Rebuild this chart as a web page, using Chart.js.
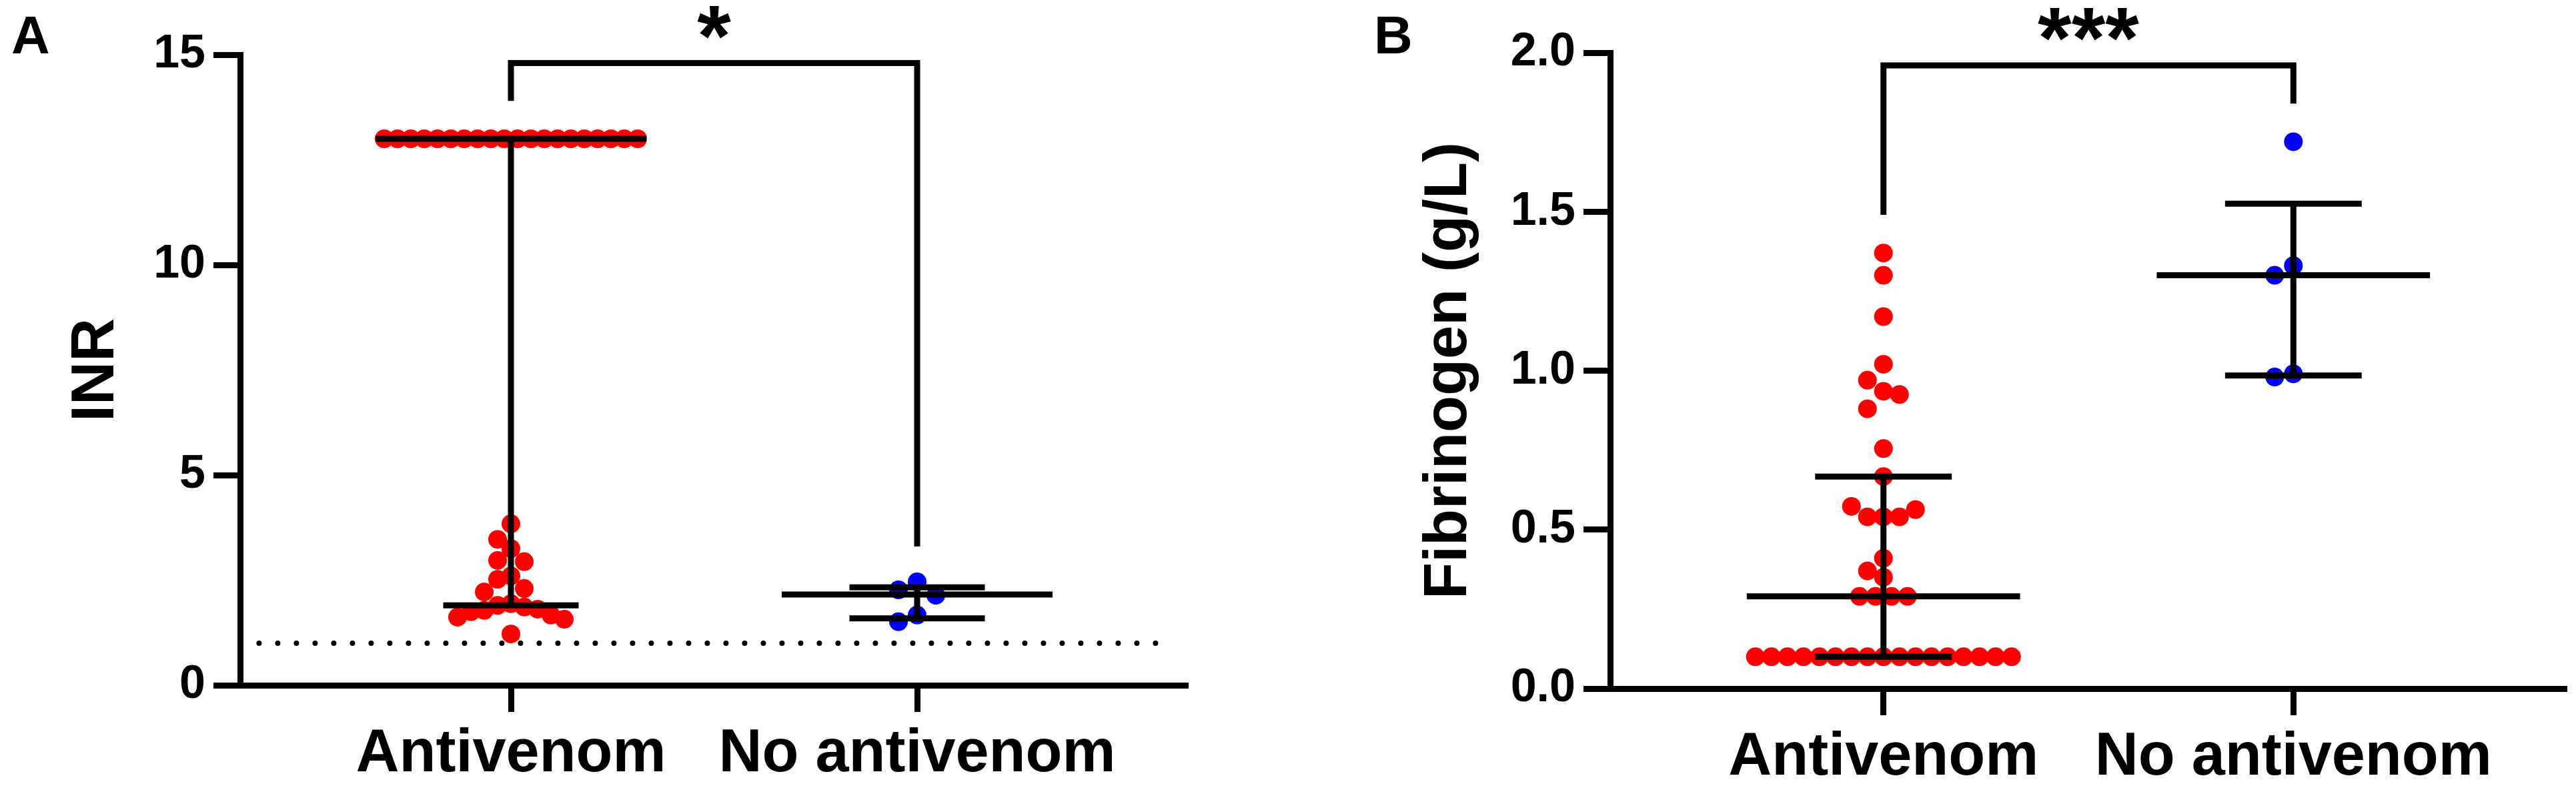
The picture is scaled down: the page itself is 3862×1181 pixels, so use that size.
<!DOCTYPE html>
<html lang="en">
<head>
  <meta charset="UTF-8">
  <title>INR and fibrinogen by antivenom</title>
  <script src="https://cdn.jsdelivr.net/npm/chart.js"></script>
  <style>
    html, body { margin: 0; padding: 0; background: #fff; }
    body { width: 3862px; height: 1181px; position: relative; overflow: hidden; }
    .panel { position: absolute; top: 0; width: 1931px; height: 1181px; }
    #panelA { left: 0; }
    #panelB { left: 1931px; }
  </style>
</head>
<body>
  <div class="panel" id="panelA"><canvas id="graficoINR"></canvas></div>
  <div class="panel" id="panelB"><canvas id="graficoFibrinogenio"></canvas></div>

<script>
  // categories
  const groups = ['Antivenom', 'No antivenom'];

  // panel A - INR
  const inrAntivenom = [
    13, 13, 13, 13, 13, 13, 13, 13, 13, 13,
    13, 13, 13, 13, 13, 13, 13, 13, 13, 13,
    3.84, 3.47, 3.25, 2.97, 2.94, 2.60, 2.52, 2.30, 2.22, 1.94,
    1.90, 1.86, 1.81, 1.78, 1.75, 1.67, 1.62, 1.57, 1.22
  ];
  const inrNoAntivenom = [2.46, 2.27, 2.14, 1.67, 1.51];
  const inrMedian = [13, 2.16];
  const inrQ1 = [1.9, 1.59];
  const inrQ3 = [13, 2.33];
  const inrTicks = [0, 5, 10, 15];
  const inrNormal = [1];                 // dotted reference line
  const inrBracket = [13.9, 14.8, 3.3];  // left leg end, top, right leg end
  const inrStars = '*';

  // panel B - fibrinogen (g/L)
  const fibAntivenom = [
    1.37, 1.30, 1.17, 1.02, 0.97, 0.935, 0.925, 0.88, 0.755, 0.667,
    0.573, 0.563, 0.54, 0.54, 0.54, 0.41, 0.37, 0.35,
    0.29, 0.29, 0.29, 0.29,
    0.1, 0.1, 0.1, 0.1, 0.1, 0.1, 0.1, 0.1, 0.1,
    0.1, 0.1, 0.1, 0.1, 0.1, 0.1, 0.1, 0.1
  ];
  const fibNoAntivenom = [1.72, 1.33, 1.30, 0.99, 0.98];
  const fibMedian = [0.29, 1.30];
  const fibQ1 = [0.1, 0.985];
  const fibQ3 = [0.667, 1.525];
  const fibTicks = [0, 0.5, 1, 1.5, 2];
  const fibBracket = [1.49, 1.96, 1.84];
  const fibStars = '***';

  const FONT = "'Liberation Sans', Arial, Helvetica, sans-serif";
  const RED = 'rgb(255, 0, 0)';
  const BLUE = 'rgb(0, 0, 255)';
  const X_MIN = 1 / 3, X_MAX = 8 / 3;
  const MEDIAN_HALF = 1 / 3, CAP_HALF = 1 / 6;
  const DOT = 14;

  // spreads dots sideways so they do not pile up (scatter dot plot)
  const beeswarm = {
    id: 'beeswarm',
    afterLayout(chart) {
      const xs = chart.scales.x, ys = chart.scales.y;
      chart.data.datasets.forEach(ds => {
        if (!ds.beeswarm) return;
        const { center, step, gap } = ds.beeswarm;
        const cx = xs.getPixelForValue(center);
        const pts = ds.data.map(p => ({ p, py: ys.getPixelForValue(p.y), px: null }));
        const counts = new Map();
        pts.forEach(q => counts.set(q.p.y, (counts.get(q.p.y) || 0) + 1));
        const placed = [];
        [...counts.entries()].filter(e => e[1] > 1).sort((a, b) => b[1] - a[1]).forEach(([v, n]) => {
          pts.filter(q => q.p.y === v).forEach((q, i) => {
            q.px = cx + (i - (n - 1) / 2) * step;
            placed.push(q);
          });
        });
        pts.filter(q => q.px === null).sort((a, b) => b.p.y - a.p.y).forEach(q => {
          for (let k = 0; k < 200; k++) {
            const off = (k % 2 ? -1 : 1) * Math.ceil(k / 2) * step;
            const livre = placed.every(o =>
              Math.abs(o.px - (cx + off)) >= step - 0.5 || Math.abs(o.py - q.py) >= gap - 0.5);
            if (livre) { q.px = cx + off; break; }
          }
          placed.push(q);
        });
        pts.forEach(q => { q.p.x = xs.getValueForPixel(q.px); });
      });
    }
  };

  // panel letter and significance stars
  const annotations = {
    id: 'annotations',
    afterDraw(chart, args, opts) {
      const { ctx, scales: { x, y } } = chart;
      ctx.save();
      ctx.fillStyle = '#000';
      ctx.textBaseline = 'alphabetic';
      ctx.textAlign = 'left';
      ctx.font = `bold 80px ${FONT}`;
      ctx.fillText(opts.letter, opts.letterX, 80);
      ctx.textAlign = 'center';
      ctx.font = `bold 130px ${FONT}`;
      ctx.fillText(opts.stars, x.getPixelForValue(1.5), y.getPixelForValue(opts.bracketTop) + 4);
      ctx.restore();
    }
  };

  function summaryLines(medians, q1, q3) {
    const pts = [];
    medians.forEach((m, i) => {
      const c = i + 1;
      pts.push({ x: c - MEDIAN_HALF, y: m }, { x: c + MEDIAN_HALF, y: m }, { x: null, y: null });
      pts.push({ x: c - CAP_HALF, y: q3[i] }, { x: c + CAP_HALF, y: q3[i] }, { x: null, y: null });
      pts.push({ x: c - CAP_HALF, y: q1[i] }, { x: c + CAP_HALF, y: q1[i] }, { x: null, y: null });
      pts.push({ x: c, y: q1[i] }, { x: c, y: q3[i] }, { x: null, y: null });
    });
    return pts;
  }

  function linha(data, extra) {
    return Object.assign({
      type: 'scatter', data, showLine: true, spanGaps: false,
      borderColor: '#000', borderWidth: 9, borderCapStyle: 'butt', borderJoinStyle: 'miter',
      pointRadius: 0, pointHoverRadius: 0
    }, extra || {});
  }

  function pontos(values, center, color, step) {
    return {
      type: 'scatter', parsing: false,
      data: values.map(v => ({ x: center, y: v })),
      beeswarm: { center, step, gap: 2 * DOT },
      pointRadius: DOT, pointHoverRadius: DOT, pointBorderWidth: 0,
      pointBackgroundColor: color, backgroundColor: color, borderColor: color
    };
  }

  function criarPainel(id, p) {
    const datasets = [
      linha(summaryLines(p.median, p.q1, p.q3)),
      linha([
        { x: 1, y: p.bracket[0] }, { x: 1, y: p.bracket[1] },
        { x: 2, y: p.bracket[1] }, { x: 2, y: p.bracket[2] }
      ])
    ];
    if (p.normal) {
      datasets.push(linha([{ x: 0.38, y: p.normal[0] }, { x: 2.62, y: p.normal[0] }],
        { borderWidth: 8, borderDash: [0, 28], borderCapStyle: 'round' }));
    }
    datasets.push(pontos(p.antivenom, 1, RED, p.stepRed));
    datasets.push(pontos(p.noAntivenom, 2, BLUE, 28));

    const eixo = { display: true, color: '#000', width: 9 };
    const grade = { display: true, drawOnChartArea: false, drawTicks: true, tickLength: 40, tickWidth: 9, tickColor: '#000' };

    return new Chart(document.getElementById(id), {
      type: 'scatter',
      data: { datasets },
      plugins: [beeswarm, annotations],
      options: {
        responsive: true,
        maintainAspectRatio: false,
        devicePixelRatio: 1,
        animation: false,
        layout: { padding: { top: p.top, right: p.right, bottom: 0, left: 0 } },
        plugins: {
          legend: { display: false },
          tooltip: { enabled: false },
          annotations: { letter: p.letter, letterX: p.letterX, stars: p.stars, bracketTop: p.bracket[1] }
        },
        scales: {
          x: {
            type: 'linear', min: X_MIN, max: X_MAX,
            afterBuildTicks: s => { s.ticks = groups.map((g, i) => ({ value: i + 1 })); },
            afterFit: s => { s.height = 1181 - p.bottom; },
            border: eixo, grid: grade,
            ticks: {
              autoSkip: false, maxRotation: 0, minRotation: 0, padding: 10, color: '#000',
              font: { family: FONT, size: 90, weight: 'bold', lineHeight: 1.2 },
              callback: v => groups[v - 1]
            }
          },
          y: {
            type: 'linear', min: p.ticks[0], max: p.ticks[p.ticks.length - 1],
            afterBuildTicks: s => { s.ticks = p.ticks.map(v => ({ value: v })); },
            afterFit: s => { s.width = p.axisX; },
            border: eixo, grid: grade,
            ticks: {
              padding: 12, color: '#000',
              font: { family: FONT, size: 70, weight: 'bold', lineHeight: 1.2 },
              callback: p.fmt
            },
            title: {
              display: true, text: p.title, color: '#000',
              font: { family: FONT, size: 90, weight: 'bold', lineHeight: 1.2 },
              padding: { top: p.titleX - 54, bottom: 0 }
            }
          }
        }
      }
    });
  }

  criarPainel('graficoINR', {
    antivenom: inrAntivenom, noAntivenom: inrNoAntivenom,
    median: inrMedian, q1: inrQ1, q3: inrQ3, ticks: inrTicks,
    normal: inrNormal, bracket: inrBracket, stars: inrStars,
    title: 'INR', fmt: v => String(v), letter: 'A', letterX: 17,
    axisX: 360, titleX: 145, top: 82, bottom: 1027, right: 150, stepRed: 20
  });

  criarPainel('graficoFibrinogenio', {
    antivenom: fibAntivenom, noAntivenom: fibNoAntivenom,
    median: fibMedian, q1: fibQ1, q3: fibQ3, ticks: fibTicks,
    normal: null, bracket: fibBracket, stars: fibStars,
    title: 'Fibrinogen (g/L)', fmt: v => v.toFixed(1), letter: 'B', letterX: 129,
    axisX: 483, titleX: 242, top: 79, bottom: 1032, right: 9, stepRed: 24
  });
</script>
</body>
</html>
